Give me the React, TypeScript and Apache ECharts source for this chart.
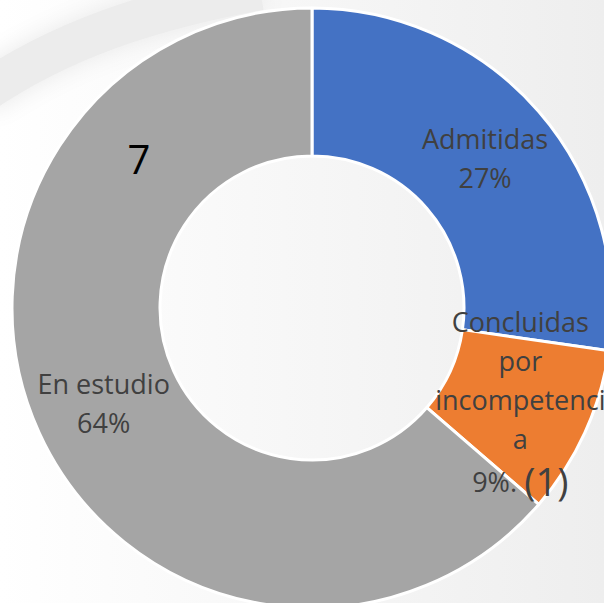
import React, { useEffect, useRef } from "react";
import * as echarts from "echarts";

const categories = ["Admitidas", "Concluidas por incompetencia", "En estudio"];
const values = [3, 1, 7];
const colors = ["#4472C4", "#ED7D31", "#A5A5A5"];
// wrapped label lines as shown in the chart
const labelLines = [["Admitidas"], ["Concluidas", "por", "incompetenci", "a"], ["En estudio"]];
const percentSuffix = ["%", "%.", "%"];
const countNotes = ["", "(1)", ""];
const extraNote = "7";

export default function App() {
  const ref = useRef<HTMLDivElement>(null);
  useEffect(() => {
    if (!ref.current) return;
    const chart = echarts.init(ref.current, null, { renderer: "svg" });
    const font = "Open Sans";
    chart.setOption({
      animation: false,
      backgroundColor: {
        type: "linear",
        x: 0,
        y: 0,
        x2: 1,
        y2: 0,
        colorStops: [
          { offset: 0, color: "#ffffff" },
          { offset: 1, color: "#eeeeee" },
        ],
      },
      graphic: [
        {
          type: "bezierCurve",
          silent: true,
          z: 0,
          shape: { x1: -20, y1: 95, cpx1: 60, cpy1: 40, cpx2: 150, cpy2: 10, x2: 260, y2: -10 },
          style: { stroke: "#ececec", lineWidth: 40, fill: "none", shadowBlur: 25, shadowColor: "#e8e8e8" },
        },
        {
          type: "text",
          z: 100,
          x: 139,
          y: 158,
          style: {
            text: extraNote,
            fill: "#000000",
            fontSize: 40,
            fontFamily: font,
            align: "center",
            verticalAlign: "middle",
          },
        },
      ],
      series: [
        {
          type: "pie",
          center: [312, 308],
          radius: [152, 300],
          startAngle: 90,
          clockwise: true,
          avoidLabelOverlap: false,
          itemStyle: { borderColor: "#ffffff", borderWidth: 3 },
          emphasis: { disabled: true },
          label: {
            show: true,
            position: "inside",
            color: "#404040",
            fontFamily: font,
            fontSize: 28,
            lineHeight: 39,
            align: "center",
            formatter: (p: any) => {
              const i = p.dataIndex;
              const pct = Math.round(p.percent) + percentSuffix[i];
              const body = labelLines[i].join("\n") + "\n" + pct;
              return `{n|${body}}` + (countNotes[i] ? ` {b|${countNotes[i]}}` : "");
            },
            rich: {
              n: { color: "#404040", fontFamily: font, fontSize: 27, lineHeight: 39 },
              b: { color: "#404040", fontFamily: font, fontSize: 38, lineHeight: 46 },
            },
          },
          labelLine: { show: false },
          data: categories.map((c, i) => ({ name: c, value: values[i], itemStyle: { color: colors[i] } })),
        },
      ],
    });
    return () => chart.dispose();
  }, []);
  return <div ref={ref} style={{ position: "fixed", left: 0, top: 0, width: 604, height: 603 }} />;
}
